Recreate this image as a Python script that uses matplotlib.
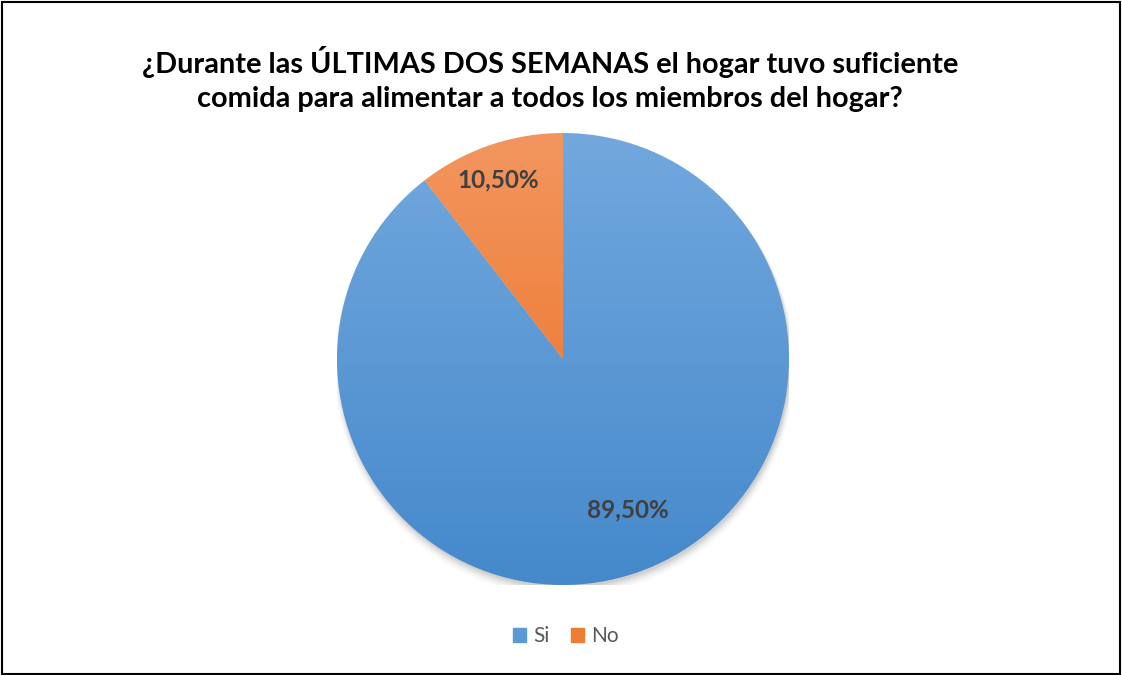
import matplotlib.pyplot as plt
import numpy as np
from matplotlib.patches import Rectangle, Circle

plt.rcParams['font.family'] = ['Lato', 'DejaVu Sans']

categories = ['Si', 'No']
values = [89.5, 10.5]
labels = ['89,50%', '10,50%']
title = '¿Durante las ÚLTIMAS DOS SEMANAS el hogar tuvo suficiente\ncomida para alimentar a todos los miembros del hogar?'

# colores (arriba, abajo) del degradado
grad_colors = [('#72a8de', '#4589cb'), ('#f29660', '#ec6c1a')]
legend_colors = ['#5b9bd5', '#ed7d31']

W, H = 1122, 675
fig = plt.figure(figsize=(W / 100, H / 100), dpi=100)

# marco
fig.patches.append(Rectangle((2 / W, 1 / H), (W - 4) / W, (H - 3) / H,
                             transform=fig.transFigure, fill=False,
                             edgecolor='#000000', linewidth=1.5))

fig.text(550 / W, 1 - 79 / H, title, ha='center', va='center',
         fontsize=20.8, fontweight='bold', color='#000000', linespacing=1.4)

cx, cy, r = 563, 359, 226
ax = fig.add_axes([(cx - r) / W, (H - cy - r) / H, 2 * r / W, 2 * r / H])
ax.set_xlim(-1, 1)
ax.set_ylim(-1, 1)
ax.set_aspect('equal')
ax.axis('off')

# sombra suave
for i, a in enumerate(np.linspace(0.05, 0.01, 6)):
    ax.add_patch(Circle((0.005, -0.012 - i * 0.004), 1.0 + i * 0.004,
                        color='#000000', alpha=a, lw=0, zorder=0))

wedges, _ = ax.pie(values, startangle=90, counterclock=False, radius=1,
                   colors=legend_colors, wedgeprops=dict(linewidth=0))

yy = np.linspace(1, 0, 256)[:, None]
for w, (top, bot) in zip(wedges, grad_colors):
    t = np.array(plt.matplotlib.colors.to_rgb(top))
    b = np.array(plt.matplotlib.colors.to_rgb(bot))
    img = (yy[..., None] * t + (1 - yy[..., None]) * b) * np.ones((256, 2, 3))
    im = ax.imshow(img, extent=(-1, 1, -1, 1), origin='upper', zorder=2,
                   aspect='auto')
    im.set_clip_path(w)
    w.set_visible(False)
    w.set_zorder(1)
ax.set_xlim(-1, 1)
ax.set_ylim(-1, 1)

# etiquetas de datos
ax.text((628 - cx) / r, (cy - 510) / r, labels[0], ha='center', va='center',
        fontsize=17.5, fontweight='bold', color='#404040', zorder=5)
ax.text((498 - cx) / r, (cy - 180) / r, labels[1], ha='center', va='center',
        fontsize=17.5, fontweight='bold', color='#404040', zorder=5)

handles = [Rectangle((0, 0), 1, 1, color=c) for c in legend_colors]
leg = fig.legend(handles, categories, loc='center', bbox_to_anchor=(566 / W, 1 - 636 / H),
                 ncol=2, frameon=False, fontsize=15, handlelength=0.65,
                 handleheight=0.65, handletextpad=0.35, columnspacing=1.0)
for t in leg.get_texts():
    t.set_color('#595959')

fig.savefig('out.png', dpi=100)
